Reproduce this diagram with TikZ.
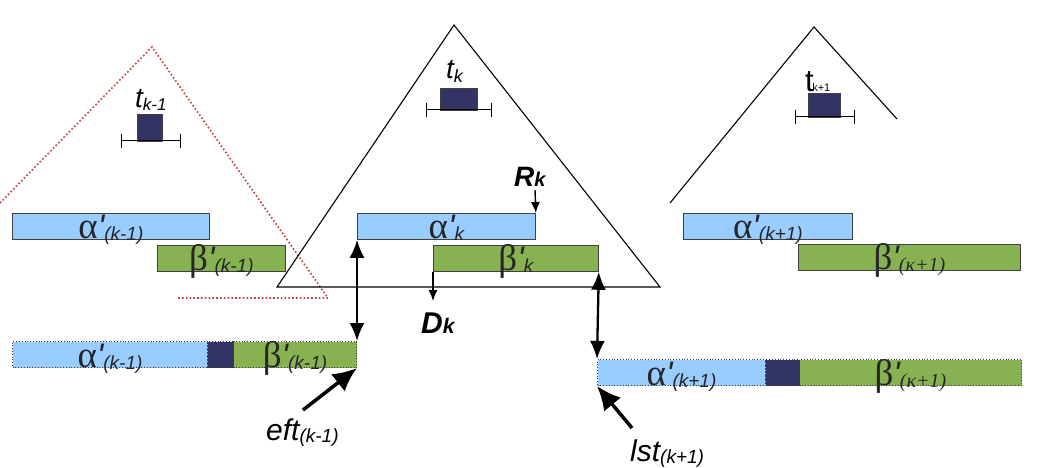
\documentclass[tikz,border=0pt]{standalone}
\usepackage{fontspec}
\setmainfont{Liberation Sans}
\newfontfamily\grk{Liberation Serif}
\usetikzlibrary{arrows.meta}
\definecolor{barblue}{RGB}{153,204,255}
\definecolor{bargreen}{RGB}{136,178,82}
\definecolor{navy}{RGB}{51,51,102}
\definecolor{dred}{RGB}{200,60,60}
\newcommand{\fs}[1]{\fontsize{#1}{#1}\selectfont}
\newcommand{\gsub}[2]{{\grk\fs{37}#1}{\fs{34}\itshape\textquotesingle}\raisebox{-2pt}{\fs{19}\itshape #2}}
\newcommand{\gsubs}[2]{{\grk\fs{37}#1}{\fs{34}\itshape\textquotesingle}\raisebox{-2pt}{\grk\fs{20}\itshape #2}}
\begin{document}
\begin{tikzpicture}[x=1pt,y=-1pt,
  bar/.style={draw=black!75, line width=0.8pt, inner sep=0pt, anchor=north west,
    minimum height=26pt, text height=25pt, text depth=0pt, text=black!85},
  dbar/.style={bar, dotted, line width=1pt},
  task/.style={draw=black!75, fill=navy, line width=0.8pt, inner sep=0pt, anchor=north west},
  tri/.style={draw=black, line width=1.1pt, line join=miter},
  rtri/.style={draw=dred, line width=1.6pt, dash pattern=on 1.6pt off 2.2pt},
  sarr/.style={line width=1.4pt, -{Latex[length=11pt,width=9pt]}},
  darr/.style={line width=2.3pt, {Latex[length=18pt,width=15pt]}-{Latex[length=18pt,width=15pt]}},
  barr/.style={line width=3.5pt, -{Latex[length=24pt,width=22pt]}},
  lab/.style={inner sep=0pt, anchor=base west}]
\useasboundingbox (0,0) rectangle (1039,468);

% triangles
\draw[rtri] (0,203) -- (152,47) -- (328,298) -- (178,298);
\draw[tri] (277,287) -- (454,25) -- (660,287) -- cycle;
\draw[tri] (670,203) -- (814,27) -- (897,119);

% task boxes with brackets
\node[task, minimum width=25pt, minimum height=27pt] (t1) at (137,114) {};
\draw[line width=1pt] (121,134) -- (121,148) (121,141) -- (180,141) (180,134) -- (180,148);
\node[task, minimum width=37pt, minimum height=22pt] (tk) at (440,88) {};
\draw[line width=1pt] (426,103) -- (426,117) (426,110) -- (491,110) (491,103) -- (491,117);
\node[task, minimum width=32pt, minimum height=24pt] (t3) at (808,93) {};
\draw[line width=1pt] (795,110) -- (795,124) (795,117) -- (854,117) (854,110) -- (854,124);

\node[lab] (lt1) at (135,108) {\fs{28}\itshape t\raisebox{-3pt}{\fs{17}k-1}};
\node[lab] (ltk) at (446,79) {\fs{28}\itshape t\raisebox{-4pt}{\fs{18}k}};
\node[lab] (lt3) at (805,92) {\fs{31}t\hspace{-1.5pt}\fs{11}k+1};

% upper bars
\node[bar, fill=barblue, minimum width=197pt] (a1) at (12,213) {\gsub{α}{(k-1)}};
\node[bar, fill=bargreen, minimum width=128pt] (b1) at (157,245) {\gsub{β}{(k-1)}};
\node[bar, fill=barblue, minimum width=178pt] (ak) at (357,213) {\gsub{α}{k}};
\node[bar, fill=bargreen, minimum width=165pt] (bk) at (433,245) {\gsub{β}{k}};
\node[bar, fill=barblue, minimum width=169pt] (a3) at (683,213) {\gsub{α}{(k+1)}};
\node[bar, fill=bargreen, minimum width=222pt] (b3) at (798,244) {\gsubs{β}{(κ+1)}};

% lower bars
\node[dbar, fill=barblue, minimum width=195pt] (la) at (12,341) {\gsub{α}{(k-1)}};
\node[dbar, fill=navy, minimum width=26pt] (ln) at (207,341) {};
\node[dbar, fill=bargreen, minimum width=123pt] (lb) at (233,341) {\gsub{β}{(k-1)}};
\node[dbar, fill=barblue, minimum width=168pt] (ra) at (597,359) {\gsub{α}{(k+1)}};
\node[dbar, fill=navy, minimum width=34pt] (rn) at (765,359) {};
\node[dbar, fill=bargreen, minimum width=222pt] (rb) at (799,359) {\gsubs{β}{(κ+1)}};

% labels
\node[lab] (Rk) at (514,186) {\fs{28}\bfseries\itshape R\fs{20}k};
\node[lab] (Dk) at (421,333) {\fs{30}\bfseries\itshape D\fs{21}k};
\node[lab] (eft) at (266,440) {\fs{30}\itshape eft\raisebox{-2pt}{\fs{19}(k-1)}};
\node[lab] (lst) at (630,461) {\fs{30}\itshape lst\raisebox{-2pt}{\fs{19}(k+1)}};

\coordinate (rs) at (535,190);
\coordinate (de) at (433,301);
\coordinate (es) at (303,410);
\coordinate (ls) at (632,428);

% arrows
\draw[sarr] (rs) -- (ak.north east);
\draw[sarr] (bk.south west) -- (de);
\draw[darr] (ak.south west) -- (lb.north east);
\draw[darr] (bk.south east) -- (ra.north west);
\draw[barr] (es) -- (lb.south east);
\draw[barr] (ls) -- (ra.south west);
\end{tikzpicture}
\end{document}
